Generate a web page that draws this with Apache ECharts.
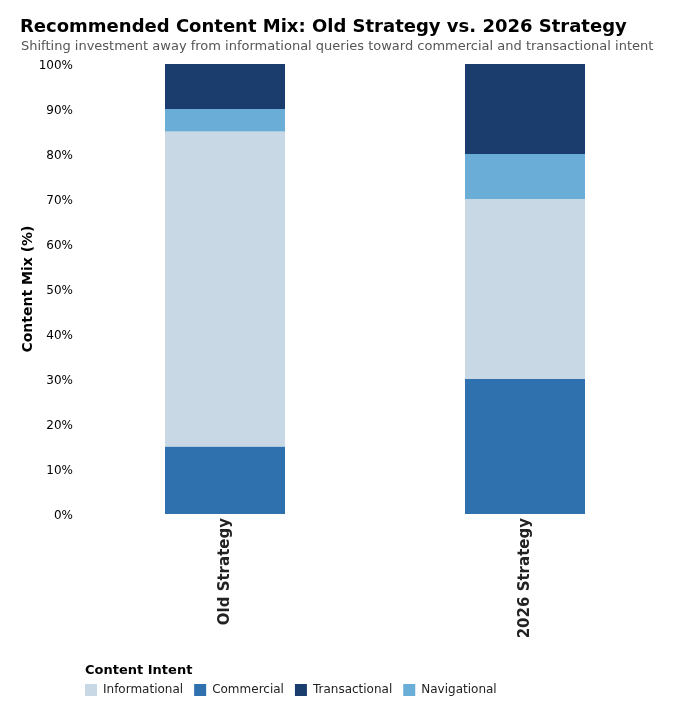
<!DOCTYPE html>
<html>
<head>
<meta charset="UTF-8">
<title>Content Mix</title>
<script src="https://cdn.jsdelivr.net/npm/echarts@6/dist/echarts.min.js"></script>
<style>
  html, body { margin: 0; padding: 0; background: #fff; }
  #main { width: 695px; height: 727px; }
</style>
</head>
<body>
<div id="main"></div>
<script type="text/javascript">
    // data
    var strategies = ['Old Strategy', '2026 Strategy'];
    var commercial = [15, 30];
    var informational = [70, 40];
    var navigational = [5, 10];
    var transactional = [10, 20];
    var legendOrder = ['Informational', 'Commercial', 'Transactional', 'Navigational'];
    var yTicks = [0, 10, 20, 30, 40, 50, 60, 70, 80, 90, 100];

    var font = 'DejaVu Sans';

    function bar(name, data, color) {
        return {
            name: name,
            type: 'bar',
            stack: 'mix',
            barWidth: '40%',
            data: data,
            itemStyle: { color: color },
            emphasis: { disabled: true }
        };
    }

    var chart = echarts.init(document.getElementById('main'));
    chart.setOption({
        animation: false,
        textStyle: { fontFamily: font },
        title: [{
            text: 'Recommended Content Mix: Old Strategy vs. 2026 Strategy',
            left: 15, top: 13,
            textStyle: { fontFamily: font, fontSize: 18, fontWeight: 'bold', color: '#000' }
        }, {
            text: 'Shifting investment away from informational queries toward commercial and transactional intent',
            left: 16, top: 35,
            textStyle: { fontFamily: font, fontSize: 13, fontWeight: 'normal', color: '#555' }
        }, {
            text: 'Content Intent',
            left: 80, top: 659,
            textStyle: { fontFamily: font, fontSize: 13, fontWeight: 'bold', color: '#000' }
        }],
        legend: {
            data: legendOrder,
            left: 80, top: 679,
            itemWidth: 12, itemHeight: 12, itemGap: 11,
            icon: 'rect',
            textStyle: { fontFamily: font, fontSize: 12, color: '#222', padding: [0, 0, 0, 1] }
        },
        grid: { left: 75, right: 20, top: 64, bottom: 213, containLabel: false },
        xAxis: {
            type: 'category',
            data: strategies,
            axisLine: { show: false },
            axisTick: { show: false },
            axisLabel: {
                rotate: 90, margin: 4,
                fontFamily: font, fontSize: 15, fontWeight: 'bold', color: '#222'
            }
        },
        yAxis: {
            type: 'value',
            min: 0, max: 100, interval: 10,
            name: 'Content Mix (%)',
            nameLocation: 'middle',
            nameGap: 40,
            nameMoveOverlap: false,
            nameTextStyle: { fontFamily: font, fontSize: 14, fontWeight: 'bold', color: '#000' },
            axisLine: { show: false },
            axisTick: { show: false },
            splitLine: { show: false },
            axisLabel: {
                margin: 2,
                fontFamily: font, fontSize: 12, color: '#000',
                formatter: function (v) { return yTicks.indexOf(v) >= 0 ? '{t|' + v + '%}' : ''; },
                rich: { t: { fontFamily: font, fontSize: 12, color: '#000', padding: [4, 0, 0, 0] } }
            }
        },
        series: [
            bar('Commercial', commercial, '#2e71ae'),
            bar('Informational', informational, '#c9d8e5'),
            bar('Navigational', navigational, '#6aaed8'),
            bar('Transactional', transactional, '#1b3d6e')
        ]
    });
</script>
</body>
</html>
